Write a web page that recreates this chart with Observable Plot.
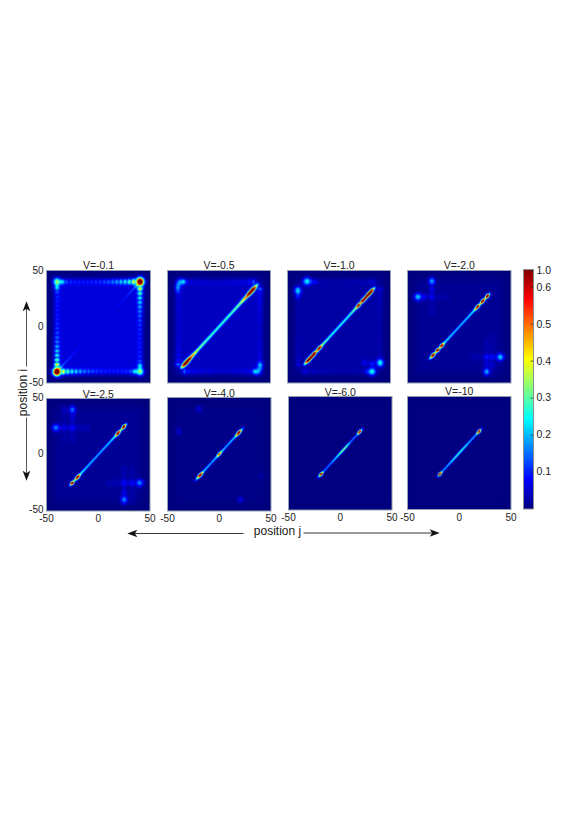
<!DOCTYPE html>
<html>
<head>
<meta charset="utf-8">
<script src="https://cdn.jsdelivr.net/npm/d3@7"></script>
<script src="https://cdn.jsdelivr.net/npm/@observablehq/plot@0.6"></script>
<style>
html,body{margin:0;padding:0;background:#fff;width:579px;height:819px;overflow:hidden}
#page{position:relative;width:579px;height:819px}
#page svg{position:absolute;background:transparent;overflow:visible}
</style>
</head>
<body>
<div id="page"></div>
<script>
// ---- Labels and ticks
const panelTitles = ["V=-0.1","V=-0.5","V=-1.0","V=-2.0","V=-2.5","V=-4.0","V=-6.0","V=-10"];
const axisTicks = [-50, 0, 50];
const barTicks = [0.1, 0.2, 0.3, 0.4, 0.5, 0.6, 0.645];
const barTickLabels = ["0.1", "0.2", "0.3", "0.4", "0.5", "0.6", "1.0"];

// ---- Colour map (jet)
const jetStops = [0, 0.08125, 0.24375, 0.40625, 0.56875, 0.65];
const jetColors = ["#00007f", "#0000ff", "#00ffff", "#ffff00", "#ff0000", "#7f0000"];

// ---- Interior glow level of each panel
const glowLevel = [0.058, 0.042, 0.024, 0.014, 0.014, 0.006, 0.001, 0.001];

// ---- Ridge along the main diagonal: position and value
const diagPos = [
  [-38,-34,-30,-26,-21,-15,15,21,26,30,34,38],
  [-38,-36,-33,-30,-27,-24,-20,-12,0,12,20,24,27,30,33,36,39],
  [-35,-33,-30,-27,-24,-22,-19,-16,-10,0,10,16,19,21,23,26,29,32,34,36],
  [-30,-28,-25.5,-23,-20.5,-19,-17,-14,-8,0,8,14,18,20,22.7,25,27.5,29,30.5],
  [-28.5,-27,-25.5,-23,-20,-17,-12,0,12,16,19,22,25,27,28.5],
  [-24.5,-22,-18.6,-15,-8,-3,0.3,3,8,15,19,22,24.5],
  [-23,-21,-18.5,-16,-10,-4,1,5.6,10,16,19,21,23],
  [-22,-20.5,-19,-16,-10,-3,3,10,16,19.5,21,23]
];
const diagVal = [
  [0.20,0.10,0.07,0.05,0.03,0.0,0.0,0.03,0.05,0.07,0.10,0.20],
  [0.02,0.32,0.85,0.80,0.52,0.40,0.30,0.26,0.24,0.26,0.30,0.40,0.52,0.80,0.85,0.38,0.02],
  [0.02,0.30,0.85,0.75,0.80,0.42,0.72,0.32,0.25,0.24,0.25,0.32,0.72,0.42,0.80,0.72,0.85,0.72,0.28,0.02],
  [0.02,0.25,0.85,0.32,0.82,0.30,0.75,0.24,0.21,0.20,0.21,0.24,0.75,0.30,0.82,0.32,0.88,0.25,0.02],
  [0.02,0.24,0.85,0.26,0.82,0.26,0.21,0.19,0.21,0.26,0.82,0.26,0.85,0.24,0.02],
  [0.02,0.20,0.80,0.22,0.19,0.22,0.62,0.22,0.19,0.22,0.80,0.20,0.02],
  [0.02,0.14,0.78,0.17,0.16,0.24,0.34,0.34,0.17,0.16,0.78,0.14,0.02],
  [0.02,0.17,0.78,0.19,0.21,0.29,0.29,0.21,0.19,0.78,0.17,0.02]
];
const diagWidth = [0.8, 1.5, 1.35, 1.3, 1.25, 1.25, 1.15, 1.15];

// ---- Oscillation along the box edges, read from the hot corner outwards
const edgePos = [-33.5,-29.5,-25.5,-21.5,-17.5,-13.5,-9.5,-5.5,-1.5,2.5,6.5,10.5,14.5,18.5,22.5,26.5,30.5,34];
const edgeLevels = [
  [0.36,0.27,0.22,0.19,0.16,0.13,0.11,0.095,0.08,0.07,0.065,0.06,0.06,0.06,0.06,0.07,0.09,0.14],
  [0.12,0.06,0.045,0.04,0.035,0.03,0.03,0.025,0.02,0.02,0.02,0.02,0.025,0.03,0.03,0.035,0.045,0.07],
  [0.05,0.03,0.025,0.02,0.018,0.015,0.012,0.012,0.01,0.01,0.01,0.01,0.012,0.012,0.015,0.018,0.025,0.035]
];

// ---- Isolated bright spots of each panel: x, y, value, radius
const spotsA = [[-40,-40,0.88,2.4],[40,40,0.88,2.4],[-40,40,0.32,2.3],[40,-40,0.32,2.3],[-40,36,0.10,1.3],[-36,40,0.10,1.3],[40,-36,0.10,1.3],[36,-40,0.10,1.3]];
const spotsB = [[-38,40,0.14,2.0],[-34.5,40,0.11,1.7],[-40,36.5,0.12,1.9],[38,-40,0.14,2.0],[40,-36.5,0.12,1.9],[35,-40,0.10,1.7],[40,-33,0.08,1.5],[-40,32,0.06,1.5]];
const spotsC = [[-40,32,0.19,2.2],[-31,40.5,0.21,2.3],[40,-32,0.21,2.3],[32,-40,0.21,2.3],[-26,40,0.05,1.6],[-22,40,0.04,1.6],[-40,27,0.06,1.6],[25,-32,0.06,1.7],[32,-33,0.08,1.7],[27,-40,0.05,1.6]];
const spotsD = [[-26.5,40.5,0.17,2.0],[-40,26.5,0.19,2.2],[39.7,-27,0.19,2.2],[26.5,-40,0.17,2.0],[-34,26.5,0.05,1.7],[-26.5,33,0.05,1.7],[-26.5,26.5,0.04,1.7],[26.5,-27,0.06,1.7],[32,-27,0.05,1.7],[26.5,-33,0.04,1.7],[32,-34,0.035,1.7]];
const spotsE = [[-25,40,0.13,2.1],[-41,24,0.14,2.2],[40,-25,0.14,2.2],[25,-40,0.14,2.2],[-25,24,0.04,1.9],[25,-25,0.04,1.9],[32,-25,0.04,1.8],[25,-33,0.04,1.7],[-33,24,0.03,1.8],[-25,33,0.03,1.7],[-33,40,0.02,1.8]];
const spotsF = [[-19.5,40,0.05,2],[-39.4,20,0.045,2],[20.5,-40,0.06,2],[41,-19,0.02,2]];
const spotsG = [];
const spotsH = [];
const panelSpots = [spotsA, spotsB, spotsC, spotsD, spotsE, spotsF, spotsG, spotsH];

// ---- Faint bands through the spots: x or y held, range, value
const bandsD = [["x",-26.5,10,46,0.014],["y",26.5,-46,-10,0.014],["x",26.5,-46,-10,0.014],["y",-27,10,46,0.014],["x",32,-46,-5,0.01]];
const bandsE = [["x",-25,10,46,0.018],["y",24,-46,-8,0.018],["x",25,-46,-10,0.018],["y",-25,8,46,0.018],["x",-33,10,46,0.01],["x",33,-46,-10,0.012]];
const panelBands = [[], [], [], bandsD, bandsE, [], [], []];

// ---- Rendering helpers
const boxes = [
  [46,150,269.5,382],[167,270,269.5,382],[287,390,269.5,382],[406.5,510,269.5,382],
  [46,149.5,397.5,510],[167,270.5,396.5,510],[287.5,391,395.5,509],[406.5,510,395.5,508.5]
];
const titleRaise = [2, 2, 2, 2, 1, 1, 1, 2];
const pad = 24;
const fontFamily = "'Liberation Sans', Arial, sans-serif";
const colorOptions = {type: "linear", domain: jetStops, range: jetColors, clamp: true};

function fieldFor(k) {
  const along = d3.scaleLinear(diagPos[k], diagVal[k]).clamp(true);
  const lo = diagPos[k][0], hi = diagPos[k][diagPos[k].length - 1];
  const spots = panelSpots[k].map(([x, y, v, r]) => [x, y, v, r, r]);
  if (k < edgeLevels.length) {
    edgePos.forEach((p, n) => {
      const v = edgeLevels[k][n];
      spots.push([p, -40, v, 1.15, 1.8], [-40, p, v, 1.8, 1.15], [-p, 40, v, 1.15, 1.8], [40, -p, v, 1.8, 1.15]);
    });
  }
  const bands = panelBands[k];
  const soft = (u) => 1 / (1 + Math.exp((Math.abs(u) - 42) / 1.6));
  return (x, y) => {
    let f = glowLevel[k] * soft(x) * soft(y);
    const t = (x + y) / 2, d = x - y;
    if (t >= lo && t <= hi) {
      const a = along(t), w = diagWidth[k] * (0.78 + 0.45 * a);
      f += a * Math.exp(-d * d / (2 * w * w));
    }
    for (const [sx, sy, v, rx, ry] of spots) {
      const dx = x - sx, dy = y - sy;
      f += v * Math.exp(-(dx * dx / (2 * rx * rx) + dy * dy / (2 * ry * ry)));
    }
    for (const [axis, at, from, to, v] of bands) {
      const across = axis === "x" ? x - at : y - at;
      const run = axis === "x" ? y : x;
      if (run >= from && run <= to) f += v * Math.exp(-across * across / 8);
    }
    return f;
  };
}

const page = document.getElementById("page");
function place(svg, left, top) {
  svg.style.left = left + "px";
  svg.style.top = top + "px";
  page.appendChild(svg);
}

panelTitles.forEach((title, k) => {
  const [l, r, t, b] = boxes[k];
  const marks = [
    Plot.raster({fill: fieldFor(k), x1: -50, x2: 50, y1: -50, y2: 50, pixelSize: 1, imageRendering: "auto"}),
    Plot.frame({stroke: "#93a0ad", strokeWidth: 1}),
    Plot.text([title], {frameAnchor: "top", lineAnchor: "bottom", dy: -titleRaise[k], fontSize: 10.5, fill: "#222"})
  ];
  if (k === 0 || k === 4) {
    marks.push(Plot.axisY(axisTicks, {anchor: "left", tickSize: 0, tickPadding: 3, tickFormat: String, label: null, fontSize: 10, fill: "#222", dy: k === 4 ? -1 : 0}));
  }
  if (k >= 4) {
    marks.push(Plot.axisX(axisTicks, {anchor: "bottom", tickSize: 0, tickPadding: 4, tickFormat: String, label: null, fontSize: 10, fill: "#222"}));
  }
  const svg = Plot.plot({
    width: r - l + 2 * pad, height: b - t + 2 * pad,
    marginLeft: pad, marginRight: pad, marginTop: pad, marginBottom: pad,
    style: {fontFamily, background: "transparent"},
    x: {domain: [-50, 50], axis: null},
    y: {domain: [-50, 50], axis: null},
    color: colorOptions,
    marks
  });
  place(svg, l - pad, t - pad);
});

// ---- Colour bar
const barSvg = Plot.plot({
  width: 10 + 2 * pad, height: 239.5 + 2 * pad,
  marginLeft: pad, marginRight: pad, marginTop: pad, marginBottom: pad,
  style: {fontFamily, background: "transparent"},
  x: {domain: [0, 1], axis: null},
  y: {domain: [0, 0.648], axis: null},
  color: colorOptions,
  marks: [
    Plot.raster({fill: (x, y) => y, x1: 0, x2: 1, y1: 0, y2: 0.648, pixelSize: 1}),
    Plot.ruleY(barTicks, {x1: 0.75, x2: 1, stroke: "#222", strokeWidth: 0.7}),
    Plot.frame({stroke: "#8a8f8f", strokeWidth: 1}),
    Plot.axisY(barTicks, {anchor: "right", tickSize: 0, tickPadding: 3, tickFormat: (d) => barTickLabels[barTicks.indexOf(d)], label: null, fontSize: 10.5, fill: "#222"})
  ]
});
place(barSvg, 522.5 - pad, 269 - pad);

// ---- Axis captions and arrows, on a layer measured in page pixels
const arrowHead = {
  draw(context, size) {
    const r = Math.sqrt(size);
    context.moveTo(0, -r);
    context.lineTo(r * 0.62, r * 0.62);
    context.lineTo(0, r * 0.22);
    context.lineTo(-r * 0.62, r * 0.62);
    context.closePath();
  }
};
const layer = Plot.plot({
  width: 579, height: 819, margin: 0,
  style: {fontFamily, background: "transparent"},
  x: {domain: [0, 579], range: [0, 579], axis: null},
  y: {domain: [0, 819], range: [0, 819], axis: null},
  marks: [
    Plot.link([0], {x1: () => 131, x2: () => 243, y1: () => 533, y2: () => 533, stroke: "#222", strokeWidth: 0.9}),
    Plot.link([0], {x1: () => 303, x2: () => 435, y1: () => 532.5, y2: () => 532.5, stroke: "#222", strokeWidth: 0.9}),
    Plot.link([0], {x1: () => 26, x2: () => 26, y1: () => 305, y2: () => 366, stroke: "#444", strokeWidth: 0.9}),
    Plot.link([0], {x1: () => 26, x2: () => 26, y1: () => 417, y2: () => 476, stroke: "#444", strokeWidth: 0.9}),
    Plot.dot([0], {x: () => 133, y: () => 533, symbol: arrowHead, r: 3.5, rotate: -90, fill: "#111", stroke: "none"}),
    Plot.dot([0], {x: () => 433, y: () => 532.5, symbol: arrowHead, r: 3.5, rotate: 90, fill: "#111", stroke: "none"}),
    Plot.dot([0], {x: () => 26, y: () => 307, symbol: arrowHead, r: 3.5, rotate: 0, fill: "#111", stroke: "none"}),
    Plot.dot([0], {x: () => 26, y: () => 474, symbol: arrowHead, r: 3.5, rotate: 180, fill: "#111", stroke: "none"}),
    Plot.text(["position j"], {x: () => 277, y: () => 531, fontSize: 12, fill: "#222"}),
    Plot.text(["position i"], {x: () => 23, y: () => 392, rotate: -90, fontSize: 12, fill: "#222"})
  ]
});
layer.style.pointerEvents = "none";
place(layer, 0, 0);
</script>
</body>
</html>
